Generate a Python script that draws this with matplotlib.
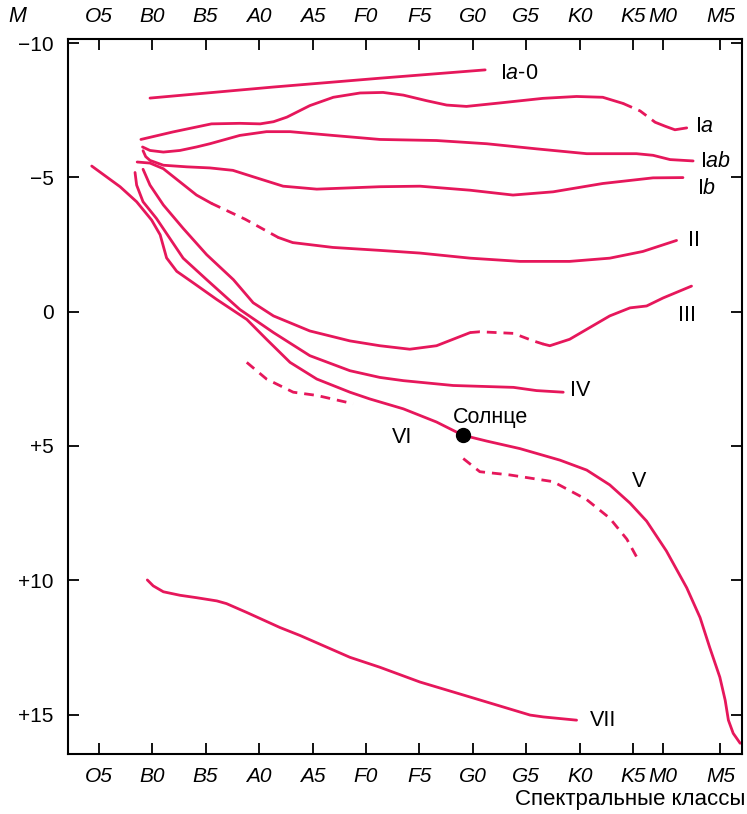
import numpy as np
import matplotlib
matplotlib.use("Agg")
import matplotlib.pyplot as plt

plt.rcParams['font.family'] = ['Liberation Sans', 'DejaVu Sans']
plt.rcParams['mathtext.fontset'] = 'custom'
plt.rcParams['mathtext.rm'] = 'Liberation Sans'
plt.rcParams['mathtext.it'] = 'Liberation Sans:italic'

# spectral classes (position on x axis) and magnitudes
spec_pos = [0, 1, 2, 3, 4, 5, 6, 7, 8, 9, 10, 10.55, 11.63]
spec_lab = ["O5", "B0", "B5", "A0", "A5", "F0", "F5", "G0", "G5", "K0", "K5", "M0", "M5"]
mag_ticks = [-10, -5, 0, 5, 10, 15]
mag_lab = ["\u221210", "\u22125", "0", "+5", "+10", "+15"]

ia0_x = [0.96, 3.26, 5.26, 7.23]
ia0_m = [-7.95, -8.36, -8.69, -9.00]

ia_x = [0.79, 1.39, 2.11, 2.64, 3.02, 3.27, 3.52, 3.95, 4.39, 4.89, 5.32, 5.70, 6.14, 6.51, 6.88, 7.51, 8.31, 8.94, 9.43, 9.81]
ia_m = [-6.41, -6.69, -6.99, -7.01, -6.99, -7.07, -7.24, -7.67, -7.98, -8.14, -8.16, -8.06, -7.85, -7.69, -7.64, -7.77, -7.94, -8.01, -7.98, -7.75]
ia_dash_x = [9.81, 10.13, 10.41]
ia_dash_m = [-7.75, -7.47, -7.05]
ia_end_x = [10.41, 10.60, 10.78, 11.00]
ia_end_m = [-7.05, -6.90, -6.77, -6.84]

iab_x = [0.82, 0.96, 1.21, 1.52, 1.83, 2.08, 2.64, 3.14, 3.58, 4.38, 5.26, 6.32, 7.26, 8.19, 9.13, 10.06, 10.37, 10.69, 11.12]
iab_m = [-6.13, -6.00, -5.94, -6.00, -6.13, -6.25, -6.56, -6.70, -6.70, -6.56, -6.41, -6.37, -6.25, -6.06, -5.88, -5.88, -5.82, -5.66, -5.61]

ib_x = [0.83, 0.88, 0.96, 1.21, 1.65, 2.08, 2.51, 2.89, 3.45, 4.08, 5.26, 6.01, 6.95, 7.75, 8.50, 9.43, 10.37, 10.93]
ib_m = [-5.99, -5.77, -5.63, -5.45, -5.39, -5.35, -5.26, -5.02, -4.67, -4.56, -4.65, -4.67, -4.52, -4.34, -4.46, -4.77, -4.98, -4.99]

ii_x = [0.72, 0.96, 1.21, 1.52, 1.83, 2.11]
ii_m = [-5.57, -5.53, -5.32, -4.83, -4.34, -4.03]
ii_dash_x = [2.11, 2.74, 3.36]
ii_dash_m = [-4.03, -3.44, -2.76]
ii_end_x = [3.36, 3.63, 4.38, 5.26, 6.01, 6.95, 7.88, 8.81, 9.56, 10.18, 10.81]
ii_end_m = [-2.76, -2.57, -2.39, -2.28, -2.18, -1.99, -1.87, -1.87, -1.99, -2.24, -2.65]

iii_x = [0.83, 0.96, 1.21, 1.58, 2.02, 2.52, 2.89, 3.27, 3.95, 4.70, 5.26, 5.82, 6.32, 6.95]
iii_m = [-5.30, -4.71, -3.97, -3.10, -2.12, -1.19, -0.33, 0.16, 0.72, 1.09, 1.27, 1.40, 1.27, 0.78]
iii_dash_x = [6.95, 7.13, 7.76, 8.13, 8.32]
iii_dash_m = [0.78, 0.75, 0.81, 1.09, 1.21]
iii_end_x = [8.32, 8.44, 8.81, 9.56, 9.94, 10.25, 10.56, 11.09]
iii_end_m = [1.21, 1.27, 1.03, 0.16, -0.14, -0.21, -0.51, -0.95]

iv_x = [0.68, 0.71, 0.83, 1.08, 1.33, 1.58, 2.02, 2.64, 3.27, 3.95, 4.70, 5.26, 5.70, 6.63, 7.76, 8.19, 8.69]
iv_m = [-5.18, -4.71, -4.09, -3.47, -2.73, -1.99, -1.19, -0.08, 0.78, 1.64, 2.20, 2.45, 2.57, 2.75, 2.82, 2.94, 3.00]

v_x = [-0.13, 0.40, 0.71, 0.99, 1.15, 1.27, 1.46, 1.77, 2.21, 2.77, 3.14, 3.58, 4.08, 4.70, 5.07, 5.70, 6.32,
       6.81, 7.26, 7.88, 8.63, 9.13, 9.56, 9.94, 10.25, 10.62, 11.00, 11.25, 11.43, 11.62, 11.72, 11.78, 11.87, 12.00]
v_m = [-5.42, -4.65, -4.09, -3.41, -2.86, -2.00, -1.50, -1.07, -0.45, 0.29, 1.03, 1.89, 2.51, 3.00, 3.25, 3.62, 4.11,
       4.60, 4.82, 5.10, 5.53, 5.90, 6.45, 7.13, 7.80, 8.91, 10.28, 11.39, 12.50, 13.61, 14.47, 15.21, 15.70, 16.07]

vi1_x = [2.77, 3.14, 3.64, 4.08, 4.76]
vi1_m = [1.89, 2.51, 3.00, 3.12, 3.43]
vi2_x = [6.82, 7.13, 7.69, 8.50, 9.13, 9.56, 9.88, 10.09]
vi2_m = [5.47, 5.96, 6.08, 6.33, 7.00, 7.69, 8.47, 9.23]

vii_x = [0.91, 1.02, 1.21, 1.52, 1.83, 2.21, 2.39, 2.77, 3.39, 3.77, 4.70, 5.26, 6.01, 6.95, 8.07, 8.32, 8.94]
vii_m = [9.99, 10.21, 10.43, 10.56, 10.65, 10.77, 10.87, 11.20, 11.76, 12.06, 12.87, 13.24, 13.79, 14.35, 15.02, 15.09, 15.21]

sun_x, sun_m = 6.81, 4.60

# class labels
lab_text = ["I$a$-0", "I$a$", "I$ab$", "I$b$", "II", "III", "IV", "V", "VI", "VII", "Солнце"]
lab_x = [7.51, 11.15, 11.25, 11.19, 11.02, 10.84, 8.82, 9.98, 5.49, 9.19, 6.63]
lab_m = [-8.86, -6.90, -5.60, -4.58, -2.64, 0.13, 2.93, 6.33, 4.70, 15.21, 3.93]

col = "#E6175B"
lw = 2.0
dash = (0, (3.5, 2.5))

fig = plt.figure(figsize=(7.47, 8.14), dpi=100)
ax = fig.add_axes([0.0906, 0.0737, 0.9031, 0.8784])

solid = [(ia0_x, ia0_m), (ia_x, ia_m), (ia_end_x, ia_end_m), (iab_x, iab_m), (ib_x, ib_m),
         (ii_x, ii_m), (ii_end_x, ii_end_m), (iii_x, iii_m), (iii_end_x, iii_end_m),
         (iv_x, iv_m), (v_x, v_m), (vii_x, vii_m)]
dashed = [(ia_dash_x, ia_dash_m), (ii_dash_x, ii_dash_m), (iii_dash_x, iii_dash_m),
          (vi1_x, vi1_m), (vi2_x, vi2_m)]

for xs, ms in solid:
    ax.plot(xs, ms, color=col, lw=lw, solid_capstyle="round", solid_joinstyle="round")
for xs, ms in dashed:
    ax.plot(xs, ms, color=col, lw=lw, linestyle=dash, dash_capstyle="butt")

ax.plot([sun_x], [sun_m], "o", color="black", markersize=10, zorder=5)

for t, x, m in zip(lab_text, lab_x, lab_m):
    ax.text(x, m, t, fontsize=15.5, ha="left", va="center")

ax.set_xlim(-0.58, 12.04)
ax.set_ylim(16.47, -10.15)
ax.set_xticks(spec_pos)
ax.set_xticklabels(spec_lab, fontstyle="italic", fontsize=15)
ax.set_yticks(mag_ticks)
ax.set_yticklabels(mag_lab, fontsize=15)
ax.tick_params(direction="in", top=True, right=True, labeltop=True, length=8, width=1.3)
ax.tick_params(axis="x", pad=9)
ax.tick_params(axis="y", pad=10)
for s in ax.spines.values():
    s.set_linewidth(1.5)

fig.text(17.5 / 747, 1 - 16.5 / 814, "M", fontsize=15.5, fontstyle="italic", ha="center", va="center")
fig.text(745 / 747, 1 - 800 / 814, "Спектральные классы", fontsize=16, ha="right", va="center")

plt.savefig("out.png", dpi=100)
